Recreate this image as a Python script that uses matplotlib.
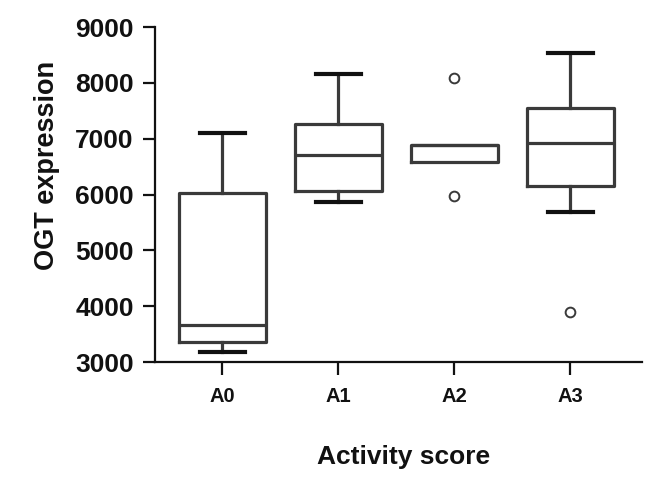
import matplotlib
matplotlib.use('Agg')
import matplotlib.pyplot as plt

# values
groups = ['A0', 'A1', 'A2', 'A3']
whis_low = [3180, 5860, 6590, 5690]
q1 = [3360, 6070, 6590, 6150]
median = [3670, 6710, 6880, 6920]
q3 = [6020, 7260, 6880, 7550]
whis_high = [7100, 8160, 6880, 8530]
outliers = [[], [], [8090, 5970], [3890]]

plt.rcParams['font.family'] = ['Liberation Sans', 'DejaVu Sans']
plt.rcParams['font.weight'] = 'bold'

stats = []
for i, g in enumerate(groups):
    stats.append({'label': g, 'whislo': whis_low[i], 'q1': q1[i], 'med': median[i],
                  'q3': q3[i], 'whishi': whis_high[i], 'fliers': outliers[i]})

fig = plt.figure(figsize=(6.52, 4.84), dpi=100)
ax = fig.add_axes([0.238, 0.252, 0.747, 0.692])

box_col = '#3a3a3a'
parts = ax.bxp(stats, positions=range(len(groups)), widths=0.75,
               boxprops=dict(color=box_col, linewidth=2.3),
               medianprops=dict(color=box_col, linewidth=2.3),
               whiskerprops=dict(color=box_col, linewidth=2.3),
               capprops=dict(color='#111111', linewidth=3.0),
               flierprops=dict(marker='o', markersize=7, markerfacecolor='none',
                               markeredgecolor=box_col, markeredgewidth=1.4),
               capwidths=0.39)

# A2 has no visible whiskers
for k in (4, 5):
    parts['caps'][k].set_visible(False)

ax.set_xlim(-0.58, 3.62)
ax.set_ylim(3000, 9000)
ax.set_yticks(range(3000, 9001, 1000))

for s in ['top', 'right']:
    ax.spines[s].set_visible(False)
for s in ['left', 'bottom']:
    ax.spines[s].set_linewidth(1.6)
    ax.spines[s].set_color('#111111')

ax.tick_params(axis='y', length=8.5, width=1.6, pad=7, labelsize=19, colors='#111111')
ax.tick_params(axis='x', length=9, width=1.6, pad=9, labelsize=14.5, colors='#111111')
ax.set_xticks(range(len(groups)))
ax.set_xticklabels(groups, fontweight='bold')

ax.set_ylabel('OGT expression', fontsize=19.5, fontweight='bold', color='#111111')
ax.yaxis.set_label_coords(-0.195, 0.588)
ax.set_xlabel('Activity score', fontsize=19, fontweight='bold', color='#111111')
ax.xaxis.set_label_coords(0.51, -0.248)

fig.savefig('out.png', dpi=100)
